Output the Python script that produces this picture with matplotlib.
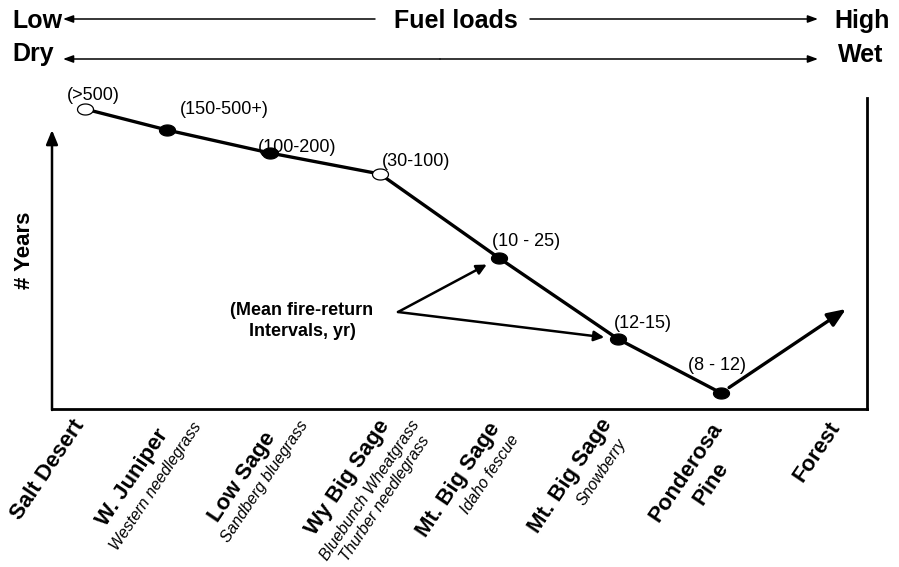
import matplotlib
matplotlib.use('Agg')
import matplotlib.pyplot as plt
from matplotlib.path import Path
import numpy as np

plt.rcParams['font.family'] = ['Liberation Sans', 'DejaVu Sans']

# ---------------- data ----------------
site_names = ['Salt Desert', 'W. Juniper', 'Low Sage', 'Wy Big Sage',
              'Mt. Big Sage', 'Mt. Big Sage', 'Ponderosa\nPine']
understory = ['', 'Western needlegrass', 'Sandberg bluegrass',
              'Bluebunch Wheatgrass\nThurber needlegrass', 'Idaho fescue',
              'Snowberry', '']
gradient_pos = [33, 115, 218, 328, 447, 566, 669]      # position along dry->wet gradient
years_index = [300, 279, 256, 235, 151, 70, 16]        # relative fire-return interval (schematic)
fri_labels = ['(>500)', '(150-500+)', '(100-200)', '(30-100)',
              '(10 - 25)', '(12-15)', '(8 - 12)']
open_marker = [True, False, False, True, False, False, False]
forest_name = 'Forest'
forest_pos = 794
forest_index = 100

# ---------------- layout ----------------
W, H = 899, 567
fig = plt.figure(figsize=(W / 100, H / 100), dpi=100)
ax_l, ax_r, ax_b, ax_t = 52, 867, 409, 98
ax = fig.add_axes([ax_l / W, (H - ax_b) / H, (ax_r - ax_l) / W, (ax_b - ax_t) / H])
ax.set_xlim(0, ax_r - ax_l)
ax.set_ylim(0, ax_b - ax_t)
ax.set_xticks([])
ax.set_yticks([])
for s in ['top', 'left']:
    ax.spines[s].set_visible(False)
for s in ['bottom', 'right']:
    ax.spines[s].set_linewidth(2.0)
ax.patch.set_alpha(0)

# left axis arrow
ax.annotate('', xy=(0, 279), xytext=(0, -1), xycoords='data',
            arrowprops=dict(arrowstyle='-|>,head_length=0.85,head_width=0.35',
                            lw=1.8, color='black', shrinkA=0, shrinkB=0),
            annotation_clip=False)

# main line
ax.plot(gradient_pos, years_index, color='black', lw=2.4, zorder=2, solid_capstyle='round')

# ellipse markers
th = np.linspace(0, 2 * np.pi, 64)
ell = Path(np.column_stack([1.45 * np.cos(th), np.sin(th)]), closed=True)
for x, y, op in zip(gradient_pos, years_index, open_marker):
    ax.plot([x], [y], marker=ell, markersize=11.5, linestyle='none',
            markerfacecolor='white' if op else 'black', markeredgecolor='black',
            markeredgewidth=0.9, zorder=3, clip_on=False)

# forest trend arrow
ax.annotate('', xy=(forest_pos, forest_index), xytext=(gradient_pos[-1], years_index[-1]),
            arrowprops=dict(arrowstyle='-|>,head_length=1.1,head_width=0.45',
                            lw=2.4, color='black', shrinkA=7, shrinkB=0),
            annotation_clip=False)

# fire-return interval labels
lab_off = [(8.5, 14), (57.5, 20), (27.5, 6), (36, 13), (27, 16), (24.5, 15.5), (-4, 27)]
for x, y, t, (dx, dy) in zip(gradient_pos, years_index, fri_labels, lab_off):
    ax.annotate(t, xy=(x, y), xytext=(dx, dy), textcoords='offset pixels',
                ha='center', va='center', fontsize=13, annotation_clip=False)

# explanatory note with arrows
ax.text(302 - ax_l, ax_b - 321, '(Mean fire-return\nIntervals, yr)', ha='center',
        va='center', fontsize=13, fontweight='bold', multialignment='center',
        linespacing=1.3)
tail = (398 - ax_l, ax_b - 312)
for i in (4, 5):
    ax.annotate('', xy=(gradient_pos[i], years_index[i]), xytext=tail,
                arrowprops=dict(arrowstyle='-|>,head_length=0.6,head_width=0.3',
                                lw=1.8, color='black', shrinkA=0, shrinkB=10),
                annotation_clip=False)

# category labels below the axis (rotated)
main_off = [[(-37, 61)], [(-34, 69)], [(-28, 68)], [(-32, 69)], [(-40, 71)],
            [(-47, 67)], [(-35, 63), (-10, 74)]]
sub_off = [[], [(-11, 77)], [(-5, 73)], [(-10, 81), (5, 90)], [(-9, 66)],
           [(-16, 63)], []]
ROT = 56
for x, name, sub, mo, so in zip(gradient_pos, site_names, understory, main_off, sub_off):
    for line, (dx, dy) in zip(name.split('\n'), mo):
        ax.annotate(line, xy=(x, 0), xytext=(dx, -dy), textcoords='offset pixels',
                    rotation=ROT, rotation_mode='anchor', ha='center', va='center',
                    fontsize=16, fontweight='bold', annotation_clip=False)
    if sub:
        for line, (dx, dy) in zip(sub.split('\n'), so):
            ax.annotate(line, xy=(x, 0), xytext=(dx, -dy), textcoords='offset pixels',
                        rotation=ROT, rotation_mode='anchor', ha='center', va='center',
                        fontsize=11.5, fontstyle='italic', annotation_clip=False)
ax.annotate(forest_name, xy=(forest_pos, 0), xytext=(-29, -43), textcoords='offset pixels',
            rotation=ROT, rotation_mode='anchor', ha='center', va='center',
            fontsize=16, fontweight='bold', annotation_clip=False)

# overlay axes for header text
ov = fig.add_axes([0, 0, 1, 1])
ov.set_xlim(0, W)
ov.set_ylim(H, 0)
ov.axis('off')
ov.patch.set_alpha(0)

ov.text(25, 250, '# Years', rotation=90, ha='center', va='center',
        fontsize=16, fontweight='bold')

hdr = dict(fontsize=18, fontweight='bold', va='center', ha='center')
ov.text(37, 21, 'Low', **hdr)
ov.text(456, 21, 'Fuel loads', **hdr)
ov.text(862, 21, 'High', **hdr)
ov.text(33, 54, 'Dry', **hdr)
ov.text(861, 55, 'Wet', **hdr)

thin = dict(arrowstyle='-|>,head_length=0.6,head_width=0.22', lw=1.1, color='black',
            shrinkA=0, shrinkB=0)
ov.annotate('', xy=(63, 19), xytext=(375, 19), arrowprops=thin)
ov.annotate('', xy=(818, 19), xytext=(530, 19), arrowprops=thin)
ov.annotate('', xy=(63, 59), xytext=(440, 59), arrowprops=thin)
ov.annotate('', xy=(818, 59), xytext=(440, 59), arrowprops=thin)

fig.savefig('out.png', dpi=100)
